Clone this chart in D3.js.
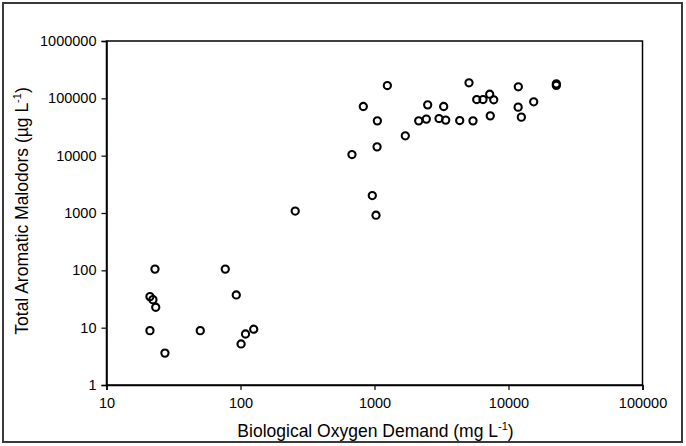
<!DOCTYPE html>
<html>
<head>
<meta charset="utf-8">
<script src="https://cdn.jsdelivr.net/npm/d3@7"></script>
<style>
  html, body { margin: 0; padding: 0; background: #fff; }
  svg { display: block; font-family: "Liberation Sans", Arial, sans-serif; }
</style>
</head>
<body>
<svg id="chart" width="686" height="446"></svg>
<script>
// Biological Oxygen Demand (mg/L)
const bod = [
  23, 21.1, 22.2, 23.3, 21.1, 27.3, 50.1, 77, 93, 125.5, 109, 101,
  256,
  1247, 825, 1050, 1698, 1045, 679, 963, 1026,
  2494, 3283, 2138, 2436, 3030, 3400, 4325, 5433,
  5073, 5790, 6454, 7240, 7760, 7310,
  11840, 11800, 12470, 15420, 22750, 22750
];
// Total aromatic malodors (µg/L)
const malodors = [
  105, 34.8, 30.8, 22.7, 8.87, 3.6, 8.87, 105, 37.2, 9.4, 7.76, 5.2,
  1080,
  167000, 72000, 40500, 22180, 14250, 10450, 2013, 916,
  77000, 72000, 40500, 43400, 44400, 41700, 41000, 40500,
  186600, 95300, 95300, 118000, 94200, 49500,
  158800, 70200, 47000, 86900, 179000, 168000
];
const xTicks = [10, 100, 1000, 10000, 100000];
const yTicks = [1, 10, 100, 1000, 10000, 100000, 1000000];
const xTitle = "Biological Oxygen Demand (mg L";
const yTitle = "Total Aromatic Malodors (µg L";

const svg = d3.select("#chart");
const mLeft = 106.5, mRight = 642.5, mTop = 41, mBottom = 385;

// outer frame
svg.append("rect").attr("x", 3).attr("y", 3).attr("width", 679).attr("height", 439)
  .attr("fill", "none").attr("stroke", "#3a3a3a").attr("stroke-width", 2);

const x = d3.scaleLog().domain([10, 100000]).range([mLeft, mRight]);
const y = d3.scaleLog().domain([1, 1000000]).range([mBottom, mTop]);

// plot box
svg.append("rect").attr("x", mLeft).attr("y", mTop).attr("width", mRight - mLeft).attr("height", mBottom - mTop)
  .attr("fill", "none").attr("stroke", "#000").attr("stroke-width", 1.5);

const xAxis = svg.append("g").attr("transform", `translate(0,${mBottom})`)
  .call(d3.axisBottom(x).tickValues(xTicks).tickFormat(d3.format("d")).tickSize(5).tickPadding(8));
const yAxis = svg.append("g").attr("transform", `translate(${mLeft},0)`)
  .call(d3.axisLeft(y).tickValues(yTicks).tickFormat(d3.format("d")).tickSize(5).tickPadding(5));
[xAxis, yAxis].forEach(g => {
  g.select(".domain").attr("stroke", "#000").attr("stroke-width", 1.5);
  g.selectAll(".tick line").attr("stroke", "#000").attr("stroke-width", 1.2);
  g.selectAll("text").attr("font-family", "Liberation Sans, Arial, sans-serif")
    .attr("font-size", 14.5).attr("fill", "#000");
});

// points
svg.append("g").selectAll("circle").data(bod.map((b, i) => [b, malodors[i]])).join("circle")
  .attr("cx", d => x(d[0])).attr("cy", d => y(d[1])).attr("r", 3.6)
  .attr("fill", "none").attr("stroke", "#000").attr("stroke-width", 2.1);

// titles
const xt = svg.append("text").attr("x", 375.5).attr("y", 437).attr("text-anchor", "middle")
  .attr("font-size", 17.5).attr("fill", "#000");
xt.append("tspan").text(xTitle);
xt.append("tspan").attr("font-size", 11).attr("dy", -7).text("-1");
xt.append("tspan").attr("dy", 7).text(")");

const yt = svg.append("text").attr("transform", "translate(28,211) rotate(-90)").attr("text-anchor", "middle")
  .attr("font-size", 17.5).attr("fill", "#000");
yt.append("tspan").text(yTitle);
yt.append("tspan").attr("font-size", 11).attr("dy", -7).text("-1");
yt.append("tspan").attr("dy", 7).text(")");
</script>
</body>
</html>
